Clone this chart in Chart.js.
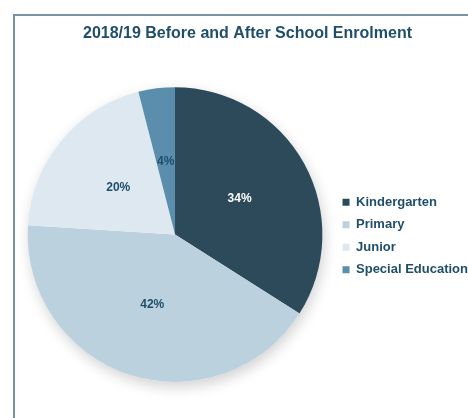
<!DOCTYPE html>
<html>
<head>
<meta charset="utf-8">
<script src="https://cdn.jsdelivr.net/npm/chart.js@4.4.1/dist/chart.umd.min.js"></script>
<style>
  html, body { margin: 0; padding: 0; background: #fff; overflow: hidden; }
  body { width: 468px; height: 418px; position: relative; }
  #frame {
    position: absolute; left: 13px; top: 14px; width: 470px; height: 420px;
    border-left: 2px solid #7893a8; border-top: 2px solid #7893a8;
    box-sizing: border-box;
  }
  #wrap { position: absolute; left: 15px; top: 16px; width: 464px; height: 402px; }
</style>
</head>
<body>
<div id="frame"></div>
<div id="wrap"><canvas id="pie-chart"></canvas></div>
<script>
const categories = ['Kindergarten', 'Primary', 'Junior', 'Special Education'];
const shares = [34, 42, 20, 4];
const sliceColors = ['#2d4a5b', '#bcd1de', '#dde8f0', '#5b8ead'];
const labelColors = ['#ffffff', '#1f4e6b', '#1f4e6b', '#1f4e6b'];

// soft shadow behind the whole pie
const pieShadow = {
    id: 'pieShadow',
    beforeDatasetsDraw(chart) {
        const arc = chart.getDatasetMeta(0).data[0];
        if (!arc) return;
        const ctx = chart.ctx;
        ctx.save();
        ctx.shadowColor = 'rgba(0, 0, 0, 0.18)';
        ctx.shadowBlur = 14;
        ctx.shadowOffsetX = 2;
        ctx.shadowOffsetY = 5;
        ctx.fillStyle = '#ffffff';
        ctx.beginPath();
        ctx.arc(arc.x, arc.y, arc.outerRadius, 0, Math.PI * 2);
        ctx.fill();
        ctx.restore();
    }
};

// percentage labels at the middle of each slice
const sliceLabels = {
    id: 'sliceLabels',
    afterDatasetsDraw(chart) {
        const ctx = chart.ctx;
        chart.getDatasetMeta(0).data.forEach((arc, i) => {
            const p = arc.tooltipPosition();
            ctx.save();
            ctx.font = 'bold 12px "Liberation Sans", Arial, sans-serif';
            ctx.fillStyle = labelColors[i];
            ctx.textAlign = 'center';
            ctx.textBaseline = 'middle';
            ctx.fillText(shares[i] + '%', p.x, p.y);
            ctx.restore();
        });
    }
};

new Chart(document.getElementById('pie-chart').getContext('2d'), {
    type: 'pie',
    data: {
        labels: categories,
        datasets: [{
            data: shares,
            backgroundColor: sliceColors,
            borderWidth: 0
        }]
    },
    options: {
        responsive: true,
        maintainAspectRatio: false,
        animation: false,
        layout: { padding: { left: 2, right: 1, top: 0, bottom: 36 } },
        plugins: {
            title: {
                display: true,
                text: '2018/19 Before and After School Enrolment',
                color: '#1f4e6b',
                font: { family: '"Liberation Sans", Arial, sans-serif', size: 16, weight: 'bold' },
                padding: { top: 8, bottom: 44 }
            },
            legend: {
                position: 'right',
                // empty legend title only pushes the items down
                title: {
                    display: true,
                    text: '',
                    font: { size: 10 },
                    padding: { top: 62, bottom: 0 }
                },
                labels: {
                    color: '#1f4e6b',
                    font: { family: '"Liberation Sans", Arial, sans-serif', size: 13, weight: 'bold' },
                    boxWidth: 7,
                    boxHeight: 7,
                    padding: 9.5
                }
            },
            tooltip: { enabled: false }
        }
    },
    plugins: [pieShadow, sliceLabels]
});
</script>
</body>
</html>
